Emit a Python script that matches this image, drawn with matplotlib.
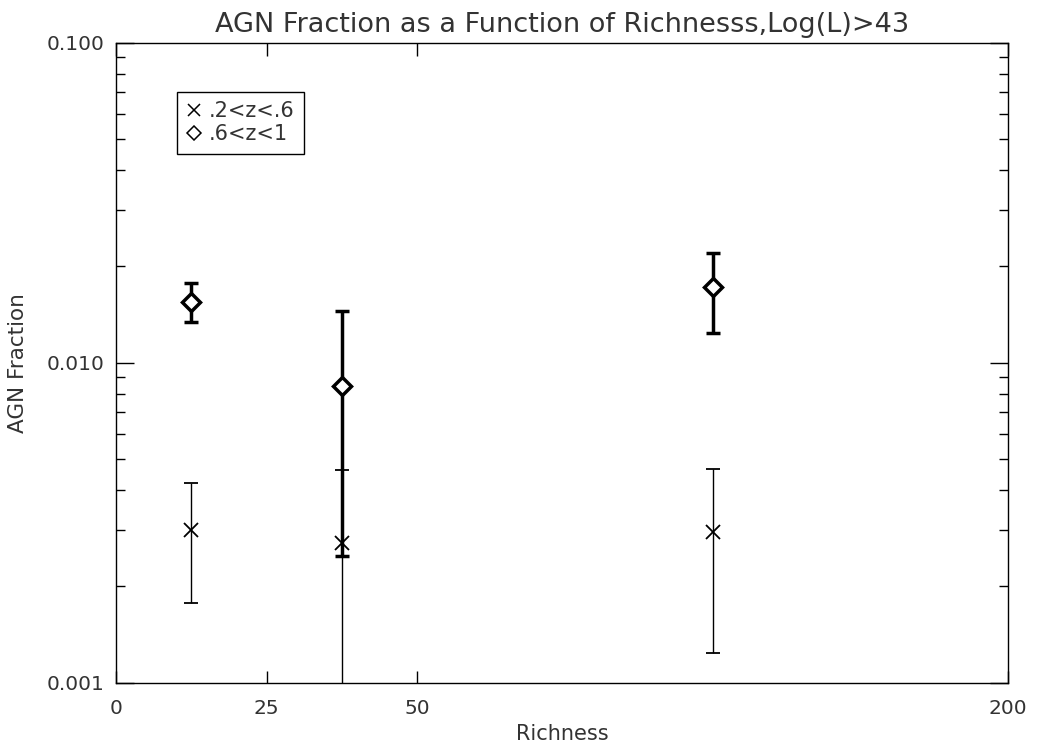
import numpy as np
import matplotlib
matplotlib.use("Agg")
import matplotlib.pyplot as plt
from matplotlib.lines import Line2D

# richness bins (edge labels) and where each edge sits on the x axis
bin_labels = ["0", "25", "50", "200"]
edge_pos = [0.0, 0.169, 0.338, 1.0]

# .2<z<.6  (crosses)
low_frac = [0.00300, 0.00273, 0.00296]
low_hi = [0.00422, 0.00463, 0.00467]
low_lo = [0.00178, 0.0005, 0.00124]

# .6<z<1  (diamonds)
high_frac = [0.01553, 0.00846, 0.01721]
high_hi = [0.0177, 0.01454, 0.0220]
high_lo = [0.01343, 0.00248, 0.0124]

plt.rcParams['font.family'] = ['DejaVu Sans']
txt = '#333333'

xs = [(edge_pos[i] + edge_pos[i + 1]) / 2 for i in range(len(edge_pos) - 1)]

fig = plt.figure(figsize=(10.42, 7.49), dpi=100)
ax = fig.add_axes([116 / 1042, 1 - 682.7 / 749, 892 / 1042, 640 / 749])

low_err = [np.array(low_frac) - np.array(low_lo), np.array(low_hi) - np.array(low_frac)]
high_err = [np.array(high_frac) - np.array(high_lo), np.array(high_hi) - np.array(high_frac)]

ax.errorbar(xs, low_frac, yerr=low_err, fmt='x', color='black', ms=10,
            mew=1.3, elinewidth=1, capsize=4.7, capthick=1, zorder=2)
ax.errorbar(xs, high_frac, yerr=high_err, fmt='D', color='black', mfc='white',
            ms=9, mew=2.5, elinewidth=2.5, capsize=4.7, capthick=2.5, zorder=3)

ax.set_yscale('log')
ax.set_ylim(0.001, 0.1)
ax.set_xlim(0, 1)
ax.set_yticks([0.001, 0.01, 0.1])
ax.set_yticklabels(["0.001", "0.010", "0.100"])
ax.set_xticks(edge_pos)
ax.set_xticklabels(bin_labels)
ax.minorticks_on()
ax.xaxis.set_minor_locator(matplotlib.ticker.NullLocator())

ax.tick_params(which='both', direction='in', top=True, right=True, labelsize=14.5,
               width=1, labelcolor=txt)
ax.tick_params(axis='x', which='major', length=9, pad=12)
ax.tick_params(axis='y', which='major', length=13, pad=8)
ax.tick_params(axis='y', which='minor', length=6.5)
for s in ax.spines.values():
    s.set_linewidth(1)

ax.set_xlabel("Richness", fontsize=15, labelpad=4, color=txt)
ax.set_ylabel("AGN Fraction", fontsize=15.5, labelpad=14, color=txt)
ax.set_title("AGN Fraction as a Function of Richnesss,Log(L)>43", fontsize=19.5,
             pad=8, color=txt)

handles = [Line2D([], [], ls='none', marker='x', color='black', ms=9, mew=1.1),
           Line2D([], [], ls='none', marker='D', color='black', mfc='none', ms=7, mew=1.1)]
leg = ax.legend(handles, [".2<z<.6", ".6<z<1"], loc='upper left',
                bbox_to_anchor=(0.068, 0.923), borderaxespad=0, fancybox=False,
                edgecolor='black', framealpha=1, fontsize=15, handlelength=0.8,
                handletextpad=0.3, labelspacing=0.15, borderpad=0.45)
leg.get_frame().set_linewidth(1)
for t in leg.get_texts():
    t.set_color(txt)

fig.savefig("out.png", dpi=100)
